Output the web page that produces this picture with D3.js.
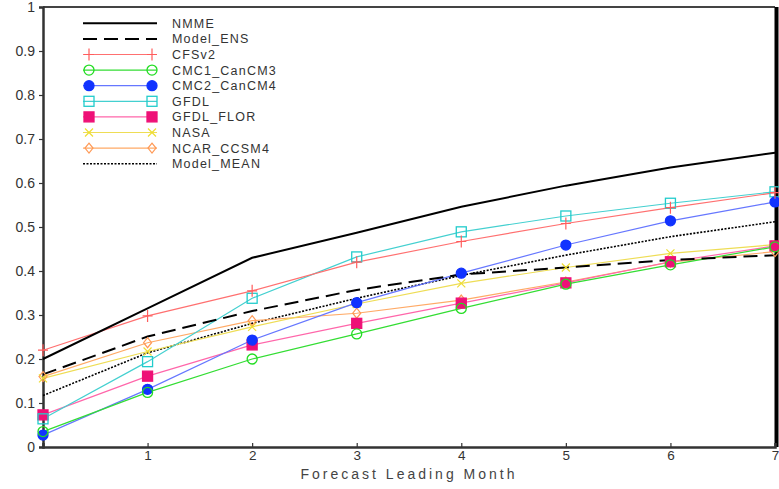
<!DOCTYPE html>
<html>
<head>
<meta charset="utf-8">
<script src="https://cdn.jsdelivr.net/npm/d3@7"></script>
<style>
  body { margin: 0; background: #fff; }
  svg { display: block; font-family: "Liberation Sans", Arial, sans-serif; }
</style>
</head>
<body>
<svg id="chart" width="779" height="489"></svg>
<script>
// forecast lead months
var months = [0, 1, 2, 3, 4, 5, 6, 7];
var yTicks = [0, 0.1, 0.2, 0.3, 0.4, 0.5, 0.6, 0.7, 0.8, 0.9, 1];
var xTicks = [1, 2, 3, 4, 5, 6, 7];

var nmme      = [0.200, 0.315, 0.430, 0.487, 0.546, 0.594, 0.635, 0.669];
var modelEns  = [0.165, 0.251, 0.309, 0.357, 0.392, 0.408, 0.425, 0.436];
var cfsv2     = [0.220, 0.298, 0.355, 0.420, 0.467, 0.508, 0.544, 0.578];
var cmc1      = [0.035, 0.124, 0.200, 0.257, 0.315, 0.370, 0.414, 0.455];
var cmc2      = [0.027, 0.131, 0.243, 0.328, 0.395, 0.459, 0.514, 0.557];
var gfdl      = [0.064, 0.194, 0.338, 0.432, 0.489, 0.525, 0.554, 0.580];
var gfdlFlor  = [0.073, 0.161, 0.232, 0.281, 0.327, 0.373, 0.421, 0.457];
var nasa      = [0.156, 0.217, 0.273, 0.325, 0.372, 0.408, 0.440, 0.460];
var ncar      = [0.160, 0.237, 0.287, 0.304, 0.334, 0.375, 0.420, 0.444];
var modelMean = [0.117, 0.214, 0.281, 0.338, 0.390, 0.436, 0.478, 0.512];

var series = [
    {name: 'NMME',        values: nmme,      color: '#000000', lineColor: '#000000', width: 2,   dash: null,  marker: null},
    {name: 'Model_ENS',   values: modelEns,  color: '#000000', lineColor: '#000000', width: 2,   dash: '14,7', marker: null},
    {name: 'CFSv2',       values: cfsv2,     color: '#ff5c5c', lineColor: '#ff7070', width: 1.2, dash: null,  marker: 'plus'},
    {name: 'CMC1_CanCM3', values: cmc1,      color: '#22dd22', lineColor: '#33dd33', width: 1.2, dash: null,  marker: 'circleOpen'},
    {name: 'CMC2_CanCM4', values: cmc2,      color: '#1133ff', lineColor: '#6677ff', width: 1.2, dash: null,  marker: 'circle'},
    {name: 'GFDL',        values: gfdl,      color: '#22cccc', lineColor: '#44d0d0', width: 1.2, dash: null,  marker: 'squareOpen'},
    {name: 'GFDL_FLOR',   values: gfdlFlor,  color: '#ee1177', lineColor: '#ff66aa', width: 1.2, dash: null,  marker: 'square'},
    {name: 'NASA',        values: nasa,      color: '#eedd33', lineColor: '#eedd55', width: 1.2, dash: null,  marker: 'cross'},
    {name: 'NCAR_CCSM4',  values: ncar,      color: '#ff9955', lineColor: '#ffaa66', width: 1.2, dash: null,  marker: 'diamondOpen'},
    {name: 'Model_MEAN',  values: modelMean, color: '#000000', lineColor: '#000000', width: 1.6, dash: '2,1.5', marker: null}
];

var svg = d3.select('#chart');
var margin = {left: 43, right: 4, top: 7, bottom: 42};
var width = 779 - margin.left - margin.right,
    height = 489 - margin.top - margin.bottom;

var x = d3.scaleLinear().domain([0, 7]).range([0, width]);
var y = d3.scaleLinear().domain([0, 1]).range([height, 0]);

var main = svg.append('g')
    .attr('transform', 'translate(' + margin.left + ',' + margin.top + ')');

// frame: top and right
main.append('line')
    .attr('x1', 0).attr('x2', width).attr('y1', 0).attr('y2', 0)
    .attr('stroke', '#444').attr('stroke-width', 2);
main.append('line')
    .attr('x1', width + 1.5).attr('x2', width + 1.5).attr('y1', 0).attr('y2', height)
    .attr('stroke', '#000').attr('stroke-width', 4);

// axes
var yAxis = main.append('g')
    .call(d3.axisLeft(y).tickValues(yTicks).tickSize(4).tickPadding(4)
        .tickFormat(function (d) { return d === 0 || d === 1 ? d3.format('d')(d) : d3.format('.1f')(d); }));
var xAxis = main.append('g')
    .attr('transform', 'translate(0,' + height + ')')
    .call(d3.axisBottom(x).tickValues(xTicks).tickSize(-4).tickPadding(3).tickFormat(d3.format('d')));

[yAxis, xAxis].forEach(function (ax) {
    ax.select('.domain').attr('stroke', '#333').attr('stroke-width', 2.5);
    ax.selectAll('.tick line').attr('stroke', '#333').attr('stroke-width', 1.2);
    ax.selectAll('.tick text')
        .attr('fill', '#333')
        .style('font-size', '14px')
        .style('font-family', '"Liberation Sans", Arial, sans-serif');
});
xAxis.selectAll('.tick text').style('font-size', '13.5px');

svg.append('text')
    .attr('x', 409)
    .attr('y', 479)
    .attr('text-anchor', 'middle')
    .attr('fill', '#444')
    .style('font-size', '14px')
    .style('letter-spacing', '3px')
    .text('Forecast Leading Month');

function drawMarker(g, type, cx, cy, color) {
    if (type === 'plus') {
        g.append('path').attr('d', 'M' + (cx - 5) + ',' + cy + 'H' + (cx + 5) + 'M' + cx + ',' + (cy - 6) + 'V' + (cy + 6))
            .attr('stroke', color).attr('stroke-width', 1.2).attr('fill', 'none');
    } else if (type === 'cross') {
        g.append('path').attr('d', 'M' + (cx - 4) + ',' + (cy - 4) + 'L' + (cx + 4) + ',' + (cy + 4) +
            'M' + (cx - 4) + ',' + (cy + 4) + 'L' + (cx + 4) + ',' + (cy - 4))
            .attr('stroke', color).attr('stroke-width', 1.2).attr('fill', 'none');
    } else if (type === 'circleOpen' || type === 'circle') {
        g.append('circle').attr('cx', cx).attr('cy', cy).attr('r', 5)
            .attr('stroke', color).attr('stroke-width', 1.3)
            .attr('fill', type === 'circle' ? color : 'none');
    } else if (type === 'squareOpen' || type === 'square') {
        g.append('rect').attr('x', cx - 5).attr('y', cy - 5).attr('width', 10).attr('height', 10)
            .attr('stroke', color).attr('stroke-width', 1.3)
            .attr('fill', type === 'square' ? color : 'none');
    } else if (type === 'diamondOpen') {
        g.append('path').attr('d', 'M' + cx + ',' + (cy - 5) + 'L' + (cx + 4) + ',' + cy + 'L' + cx + ',' + (cy + 5) + 'L' + (cx - 4) + ',' + cy + 'Z')
            .attr('stroke', color).attr('stroke-width', 1.2).attr('fill', 'none');
    }
}

// series lines
var line = d3.line()
    .x(function (d, i) { return x(months[i]); })
    .y(function (d) { return y(d); });

var plot = main.append('g');
series.slice().reverse().forEach(function (s) {
    plot.append('path')
        .datum(s.values)
        .attr('d', line)
        .attr('fill', 'none')
        .attr('stroke', s.lineColor)
        .attr('stroke-width', s.width)
        .attr('stroke-dasharray', s.dash);
});
series.slice().reverse().forEach(function (s) {
    if (!s.marker) { return; }
    s.values.forEach(function (v, i) {
        drawMarker(plot, s.marker, x(months[i]), y(v), s.color);
    });
});

// legend
var legend = svg.append('g');
var legX1 = 83, legX2 = 157, legY0 = 23.3, legStep = 15.6;
series.forEach(function (s, i) {
    var ly = legY0 + i * legStep;
    legend.append('line')
        .attr('x1', legX1).attr('x2', legX2).attr('y1', ly).attr('y2', ly)
        .attr('stroke', s.lineColor)
        .attr('stroke-width', s.width)
        .attr('stroke-dasharray', s.dash);
    if (s.marker) {
        drawMarker(legend, s.marker, legX1 + 6, ly, s.color);
        drawMarker(legend, s.marker, legX2 - 5, ly, s.color);
    }
    legend.append('text')
        .attr('x', 172).attr('y', ly + 4.5)
        .attr('fill', '#333')
        .style('font-size', '12.5px')
        .style('letter-spacing', '1.2px')
        .text(s.name);
});
</script>
</body>
</html>
